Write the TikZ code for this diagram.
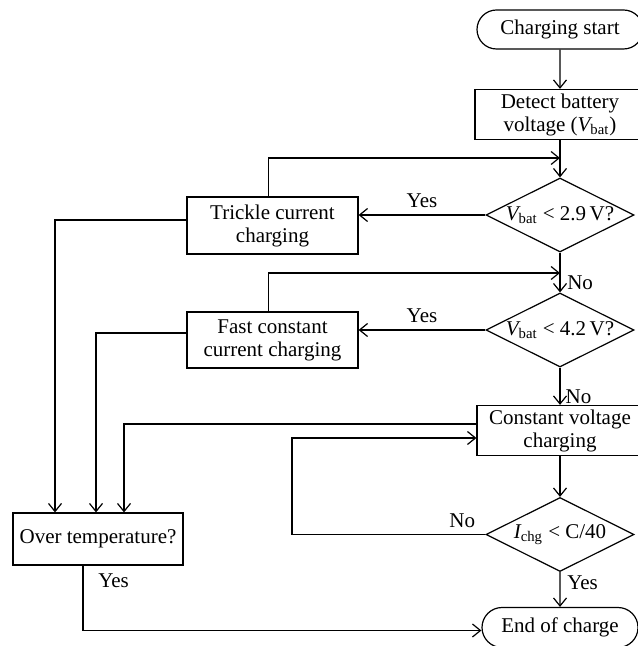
\documentclass[tikz,border=0pt]{standalone}
\usepackage{fontspec}
\setmainfont{Liberation Serif}
\usepackage{tikz}
\usetikzlibrary{arrows.meta,shapes.geometric,shapes.misc}
\tikzstyle{block}=[rectangle, draw, align=center, inner sep=2pt, minimum width=85pt, minimum height=24.5pt]
\tikzstyle{decision}=[diamond, draw, inner sep=0pt, minimum width=74pt, minimum height=37pt]
\tikzstyle{terminal}=[rounded rectangle, draw, inner sep=2pt, minimum width=87pt, minimum height=19.5pt]
\newcommand{\block}{\node[block]}
\newcommand{\decision}{\node[decision]}
\newcommand{\vb}{{\itshape V}\textsubscript{bat}}

\begin{document}
\begin{tikzpicture}[x=0.5pt, y=-0.5pt, line width=0.6pt
    ,font=\fontsize{10.5}{11.5}\selectfont
    ,>={Straight Barb[length=4pt,width=6.5pt]}
    ,every edge/.style={draw,->}
]
\useasboundingbox (0,0) rectangle (637,646);
\node[terminal] (start) at (560,29.5) {Charging start};
\block (detect) at (560,114.5) {Detect battery\\voltage (\vb)};
\decision (lowv) at (560,215) {\makebox[0pt]{\vb\ < 2.9\,V?}};
\decision (highv) at (560,330) {\makebox[0pt]{\vb\ < 4.2\,V?}};
\block[minimum width=83pt] (cv) at (560,430.5) {Constant voltage\\charging};
\decision (cur) at (560,534.5) {\makebox[0pt]{{\itshape I}\textsubscript{chg} < C/40}};
\node[terminal, minimum width=82pt, minimum height=20pt] (stop) at (560,627.5) {End of charge};
\block[minimum width=85.5pt, minimum height=28.5pt] (trickle) at (272.5,225.5) {Trickle current\\charging};
\block[minimum width=85.5pt, minimum height=28pt] (fast) at (272.5,340) {Fast constant\\current charging};
\block[minimum height=26pt] (over) at (98,539) {Over temperature?};
\coordinate (back1) at (560,158);
\coordinate (back2) at (560,273);
\coordinate (loop) at (292,438);
\path
(start) edge (detect)
(detect) edge (lowv)
(lowv) edge node[right, pos=0.75] {No} (highv)
(highv) edge node[right, pos=0.78, inner sep=2.5pt] {No} (cv)
(cv) edge (cur)
(cur) edge node[right, pos=0.3] {Yes} (stop)
(lowv.west) edge node[above] {Yes} (lowv.west -| trickle.east)
(highv.west) edge node[above] {Yes} (highv.west -| fast.east)
;
% loops back to the main column
\draw[->] ([xshift=-2pt]trickle.north) |- (back1);
\draw[->] ([xshift=-2pt]fast.north) |- (back2);
\draw[->] (cur.west) -- node[above, pos=0.12] {No} (cur.west -| loop) |- (loop -| cv.west);
% into over temperature
\draw[->] ([yshift=2.75pt]trickle.west) -| ([xshift=-21.5pt]over.north);
\draw[->] ([yshift=3.5pt]fast.west) -| ([xshift=-1pt]over.north);
\draw[->] ([yshift=3.25pt]cv.west) -| ([xshift=13pt]over.north);
\draw[->] ([xshift=-7.5pt]over.south) |- node[right, pos=0.12, xshift=4pt] {Yes} ([yshift=-1.5pt]stop.west);
\end{tikzpicture}
\end{document}
